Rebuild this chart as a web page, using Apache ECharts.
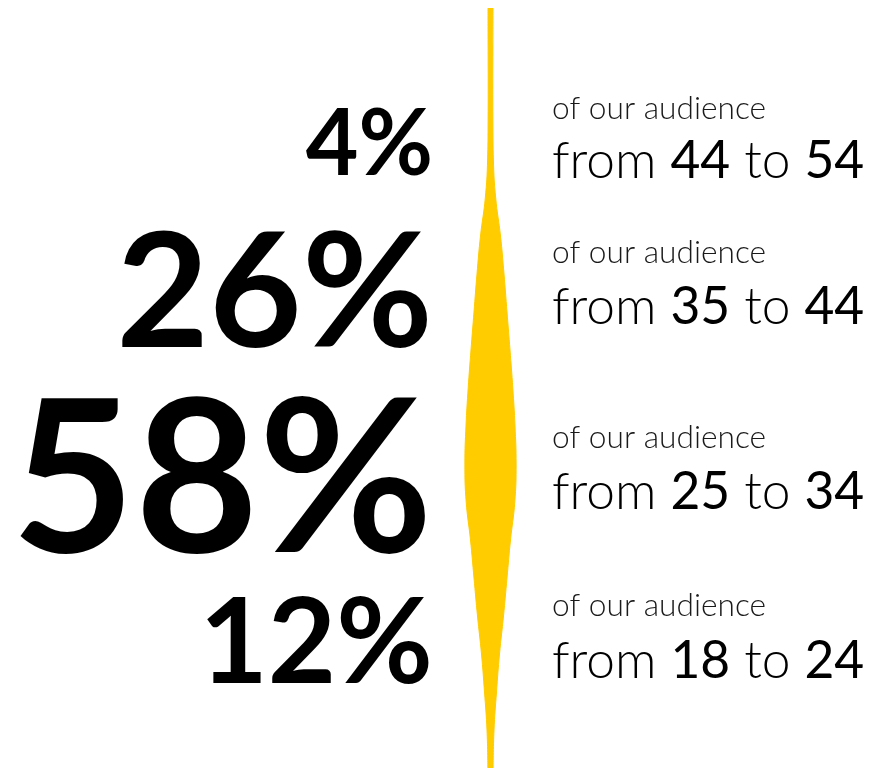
<!DOCTYPE html>
<html>
<head>
<meta charset="utf-8">
<script src="https://cdn.jsdelivr.net/npm/echarts@6/dist/echarts.min.js"></script>
<style>
html,body{margin:0;padding:0;background:#fff;}
#chart{width:874px;height:771px;}
</style>
</head>
<body>
<div id="chart"></div>
<script>
// ---- data ----
var ageGroups = ['44 to 54', '35 to 44', '25 to 34', '18 to 24'];
var shares = [4, 26, 58, 12];
var subtitle = 'of our audience';
// violin profile (top to bottom), half-width of the density shape
var profilePoints = ['p0','p1','p2','p3','p4','p5','p6','p7','p8','p9','p10','p11','p12','p13','p14','p15','p16','p17','p18','p19','p20'];
var profileHalfWidth = [2.5, 2.4, 2.3, 2.4, 2.9, 5.2, 10, 13.5, 16.5, 19.5, 22.3, 24.5, 25.6, 24.3, 20, 16.5, 13, 9, 6, 3.5, 2.6];

// ---- layout (not data) ----
var pctFont = [91, 160, 213, 118];
var pctBaseline = [175, 347, 552, 683];
var subBaseline = [119, 263, 448, 616];
var rangeBaseline = [178, 324, 509, 678];
var SUB_FS = 31.7, RANGE_FS = 51.5;
var MID = 0.3225; // canvas 'middle' offset from alphabetic baseline (em)
var YELLOW = '#FFCC00';

var chart = echarts.init(document.getElementById('chart'), null, {renderer: 'canvas'});

var graphics = [];
shares.forEach(function (s, i) {
  var fs = pctFont[i];
  graphics.push({
    type: 'text',
    x: 433, y: pctBaseline[i] - MID * fs,
    style: {
      text: s + '%', fill: '#000',
      font: '700 ' + fs + 'px Lato',
      align: 'right', verticalAlign: 'middle'
    }
  });
  graphics.push({
    type: 'text',
    x: 552, y: subBaseline[i] - MID * SUB_FS,
    style: {
      text: subtitle, fill: '#1a1a1a',
      font: '300 ' + SUB_FS + 'px Lato',
      align: 'left', verticalAlign: 'middle'
    }
  });
  var parts = ageGroups[i].split(' to ');
  graphics.push({
    type: 'text',
    x: 552, y: rangeBaseline[i] - MID * RANGE_FS,
    style: {
      text: '{l|from }{b|' + parts[0] + '}{l| to }{b|' + parts[1] + '}',
      align: 'left', verticalAlign: 'middle',
      rich: {
        l: {font: '300 ' + RANGE_FS + 'px Lato', fill: '#000'},
        b: {font: '400 ' + RANGE_FS + 'px Lato', fill: '#000'}
      }
    }
  });
});

chart.setOption({
  backgroundColor: '#fff',
  animation: false,
  grid: {left: 440, right: 333, top: 8, bottom: 3},
  xAxis: {type: 'value', min: -50.5, max: 50.5, show: false},
  yAxis: {type: 'category', data: profilePoints, inverse: true, boundaryGap: false, show: false},
  series: [
    {
      // left edge of the violin (base of the stack)
      type: 'line', stack: 'violin', stackStrategy: 'all',
      data: profileHalfWidth.map(function (v) { return -v; }),
      smooth: 0.45, symbol: 'none',
      lineStyle: {color: YELLOW, width: 1}
    },
    {
      // full width stacked on the left edge -> filled body
      type: 'line', stack: 'violin', stackStrategy: 'all',
      data: profileHalfWidth.map(function (v) { return 2 * v; }),
      smooth: 0.45, symbol: 'none',
      lineStyle: {color: YELLOW, width: 1},
      areaStyle: {color: YELLOW, opacity: 1}
    }
  ],
  graphic: graphics
});
</script>
</body>
</html>
